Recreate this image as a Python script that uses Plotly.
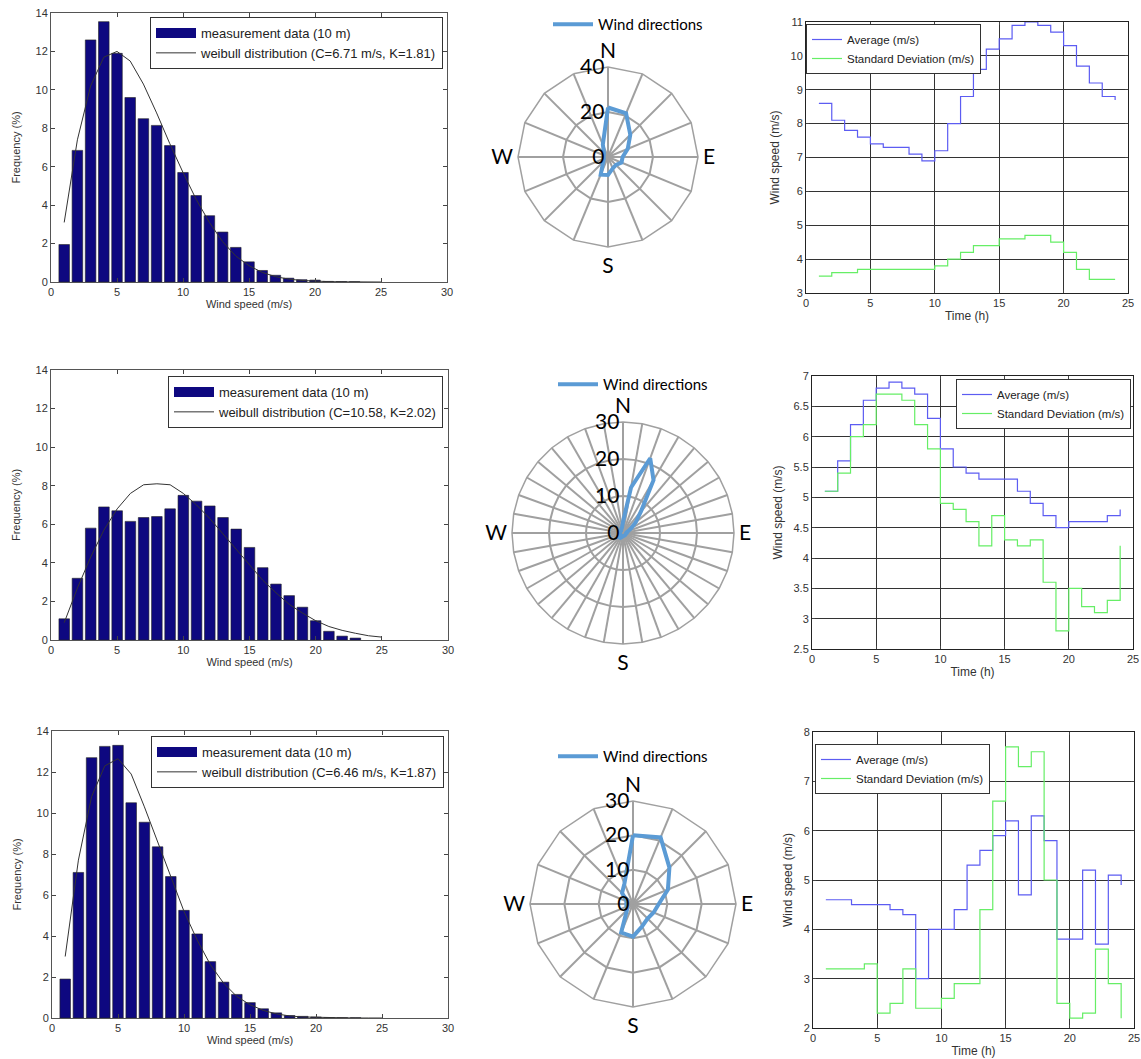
import plotly.graph_objects as go

W, H = 1141, 1059


def px(x):
    return min(1.0, max(0.0, x / W))


def py(y):
    return min(1.0, max(0.0, 1 - y / H))


# ---------------- data ----------------
speed_bins = list(range(1, 24))
hist_1 = [1.95, 6.85, 12.6, 13.55, 11.9, 9.6, 8.5, 8.15, 7.1, 5.7, 4.5, 3.45,
          2.6, 1.8, 1.05, 0.6, 0.35, 0.2, 0.12, 0.1, 0.03, 0.02, 0.01]
hist_2 = [1.1, 3.2, 5.8, 6.9, 6.7, 6.15, 6.35, 6.4, 6.8, 7.5, 7.2, 6.95,
          6.35, 5.75, 4.8, 3.75, 2.9, 2.3, 1.7, 1.0, 0.45, 0.2, 0.1]
hist_3 = [1.9, 7.1, 12.7, 13.25, 13.3, 10.5, 9.55, 8.35, 6.9, 5.25, 4.1, 2.75,
          1.75, 1.15, 0.75, 0.45, 0.25, 0.12, 0.08, 0.05, 0.02, 0.01, 0.01]

weib_x = list(range(1, 26))
weib_1 = [3.1, 7.4, 10.2, 11.7, 12.0, 11.5, 10.3, 8.8, 7.2, 5.7, 4.3, 3.1, 2.1,
          1.35, 0.85, 0.5, 0.28, 0.15, 0.08, 0.04, 0.02, 0.01, 0.0, 0.0, 0.0]
weib_2 = [0.9, 2.7, 4.3, 5.7, 6.8, 7.6, 8.05, 8.1, 8.05, 7.6, 7.0, 6.3, 5.5,
          4.7, 3.9, 3.1, 2.45, 1.85, 1.4, 1.0, 0.7, 0.5, 0.35, 0.22, 0.15]
weib_3 = [3.0, 7.7, 10.8, 12.3, 12.65, 11.9, 10.3, 8.6, 6.9, 5.2, 3.8, 2.6, 1.7,
          1.05, 0.65, 0.37, 0.2, 0.1, 0.05, 0.03, 0.01, 0.0, 0.0, 0.0, 0.0]
weib_names = ["weibull distribution (C=6.71 m/s, K=1.81)",
              "weibull distribution (C=10.58, K=2.02)",
              "weibull distribution (C=6.46 m/s, K=1.87)"]

dirs16 = ["N", "NNE", "NE", "ENE", "E", "ESE", "SE", "SSE",
          "S", "SSW", "SW", "WSW", "W", "WNW", "NW", "NNW"]
rose_1 = [22, 21, 14, 9.5, 6.5, 6.5, 5, 5.5, 8, 8.5, 3, 2, 2, 2, 2.5, 6]
rose_3 = [20, 21, 15, 11, 7.5, 6.5, 6, 7, 9.5, 9, 2.5, 2, 2, 2, 4.5, 6.5]
dirs36 = [str(d) for d in range(0, 360, 10)]
rose_2 = [3, 12.5, 21.5, 16.5, 7.5, 4.5, 2.5, 1.5, 1, 1, 0.8, 0.8, 0.8, 0.8, 0.8,
          0.8, 0.8, 0.8, 0.8, 1, 1.2, 1.5, 1.5, 1.2, 1, 0.8, 0.8, 0.8, 0.8, 0.8,
          0.8, 0.8, 0.8, 1, 1.2, 1.5]

hours = list(range(1, 25))
avg_1 = [8.6, 8.1, 7.8, 7.6, 7.4, 7.3, 7.3, 7.1, 6.9, 7.2, 8.0, 8.8, 9.6, 10.2,
         10.5, 10.9, 11.0, 10.9, 10.7, 10.3, 9.7, 9.2, 8.8, 8.7]
std_1 = [3.5, 3.6, 3.6, 3.7, 3.7, 3.7, 3.7, 3.7, 3.7, 3.8, 4.0, 4.2, 4.4, 4.4,
         4.6, 4.6, 4.7, 4.7, 4.5, 4.2, 3.7, 3.4, 3.4, 3.4]
avg_2 = [5.1, 5.6, 6.2, 6.6, 6.8, 6.9, 6.8, 6.7, 6.3, 5.8, 5.5, 5.4, 5.3, 5.3,
         5.3, 5.1, 4.9, 4.7, 4.5, 4.6, 4.6, 4.6, 4.7, 4.8]
std_2 = [5.1, 5.4, 6.0, 6.2, 6.7, 6.7, 6.6, 6.2, 5.8, 4.9, 4.8, 4.6, 4.2, 4.7,
         4.3, 4.2, 4.3, 3.6, 2.8, 3.5, 3.2, 3.1, 3.3, 4.2]
avg_3 = [4.6, 4.6, 4.5, 4.5, 4.5, 4.4, 4.3, 3.0, 4.0, 4.0, 4.4, 5.3, 5.6, 5.9,
         6.2, 4.7, 6.3, 5.8, 3.8, 3.8, 5.2, 3.7, 5.1, 4.9]
std_3 = [3.2, 3.2, 3.2, 3.3, 2.3, 2.5, 3.2, 2.4, 2.4, 2.6, 2.9, 2.9, 4.4, 6.6,
         7.7, 7.3, 7.6, 5.0, 2.5, 2.2, 2.3, 3.6, 2.9, 2.2]

# ---------------- styles ----------------
BAR_COLOR = "#0e0880"
AVG_COLOR = "#5c5cf2"
STD_COLOR = "#66ee66"
ROSE_COLOR = "#5b9bd5"
GRID_GREY = "#a0a0a0"
MFONT = "Liberation Sans, Arial, sans-serif"
XFONT = "Lato, Open Sans, sans-serif"

fig = go.Figure()

hist_boxes = [(51, 447, 13, 282), (51, 448, 370, 640), (52, 448, 731, 1018)]
line_boxes = [(806, 1128, 22, 293), (812, 1133, 376, 649), (813, 1134, 732, 1028)]
polar_boxes = [(608, 157, 90), (623, 533, 111), (633, 904, 103)]
hist_legend_pos = [(443, 17), (443, 376), (444, 736)]
line_legend_pos = [(806, 24, "left"), (1131, 379, "right"), (815, 744, "left")]
polar_legend_pos = [(548, 8), (553, 368), (553, 740)]
line_ranges = [(3, 11, 1), (2.5, 7, 0.5), (2, 8, 1)]
polar_ranges = [(40, 20), (30, 10), (30, 10)]

hists = [hist_1, hist_2, hist_3]
weibs = [weib_1, weib_2, weib_3]
avgs = [avg_1, avg_2, avg_3]
stds = [std_1, std_2, std_3]
roses = [(dirs16, rose_1), (dirs36, rose_2), (dirs16, rose_3)]

layout = dict(
    width=W, height=H, margin=dict(l=0, r=0, t=0, b=0, autoexpand=False),
    paper_bgcolor="white", plot_bgcolor="white", barmode="overlay",
)

leg_idx = 0


def legname(i):
    return "legend" if i == 0 else f"legend{i + 1}"


for r in range(3):
    # ---- histogram ----
    xa_i = 2 * r + 1
    xn = "x" if xa_i == 1 else f"x{xa_i}"
    yn = "y" if xa_i == 1 else f"y{xa_i}"
    lg = legname(leg_idx)
    fig.add_trace(go.Bar(x=speed_bins, y=hists[r], width=0.8, xaxis=xn, yaxis=yn,
                         marker=dict(color=BAR_COLOR, line=dict(color="#222", width=0.6)),
                         name="measurement data (10 m)", showlegend=False, legend=lg))
    # legend swatch (wide rectangle like the original) - legend only, no data
    fig.add_trace(go.Scatter(x=[None], y=[None], mode="lines", xaxis=xn, yaxis=yn,
                             line=dict(color=BAR_COLOR, width=11),
                             name="measurement data (10 m)", legend=lg))
    fig.add_trace(go.Scatter(x=weib_x, y=weibs[r], mode="lines", xaxis=xn, yaxis=yn,
                             line=dict(color="#333", width=1), name=weib_names[r], legend=lg))
    x0, x1, y0, y1 = hist_boxes[r]
    axkey = "xaxis" if xa_i == 1 else f"xaxis{xa_i}"
    aykey = "yaxis" if xa_i == 1 else f"yaxis{xa_i}"
    layout[axkey] = dict(domain=[px(x0), px(x1)], anchor=yn, range=[0, 30],
                         tickvals=[0, 5, 10, 15, 20, 25, 30], ticks="inside", ticklen=4,
                         mirror="ticks", showline=True, linecolor="#555", linewidth=1,
                         showgrid=False, zeroline=False, ticklabeloverflow="allow",
                         tickfont=dict(family=MFONT, size=11, color="#333"),
                         title=dict(text="Wind speed (m/s)", standoff=3,
                                    font=dict(family=MFONT, size=11, color="#333")))
    layout[aykey] = dict(domain=[py(y1), py(y0)], anchor=xn, range=[0, 14],
                         tickvals=list(range(0, 15, 2)), ticks="inside", ticklen=4,
                         mirror="ticks", showline=True, linecolor="#555", linewidth=1,
                         showgrid=False, zeroline=False, ticklabeloverflow="allow",
                         tickfont=dict(family=MFONT, size=11, color="#333"),
                         title=dict(text="Frequency (%)", standoff=12,
                                    font=dict(family=MFONT, size=11, color="#333")))
    lx, ly = hist_legend_pos[r]
    layout[lg] = dict(x=px(lx), y=py(ly), xanchor="right", yanchor="top",
                      bgcolor="white", bordercolor="#333", borderwidth=1,
                      font=dict(family=MFONT, size=13, color="#222"),
                      tracegroupgap=0, itemwidth=40)
    leg_idx += 1

    # ---- step lines ----
    xa_i = 2 * r + 2
    xn = f"x{xa_i}"
    yn = f"y{xa_i}"
    lg = legname(leg_idx)
    fig.add_trace(go.Scatter(x=hours, y=avgs[r], mode="lines", line_shape="hv",
                             xaxis=xn, yaxis=yn, line=dict(color=AVG_COLOR, width=1.2),
                             name="Average (m/s)", legend=lg))
    fig.add_trace(go.Scatter(x=hours, y=stds[r], mode="lines", line_shape="hv",
                             xaxis=xn, yaxis=yn, line=dict(color=STD_COLOR, width=1.2),
                             name="Standard Deviation (m/s)", legend=lg))
    x0, x1, y0, y1 = line_boxes[r]
    lo, hi, st = line_ranges[r]
    nt = int(round((hi - lo) / st))
    yt = [lo + k * st for k in range(nt + 1)]
    layout[f"xaxis{xa_i}"] = dict(domain=[px(x0), px(x1)], anchor=yn, range=[0, 25],
                                  tickvals=[0, 5, 10, 15, 20, 25], ticks="inside", ticklen=3,
                                  mirror="ticks", showline=True, linecolor="#222",
                                  showgrid=True, gridcolor="#333", gridwidth=1, zeroline=False,
                                  ticklabeloverflow="allow",
                                  tickfont=dict(family=MFONT, size=11, color="#333"),
                                  title=dict(text="Time (h)", standoff=3,
                                             font=dict(family=MFONT, size=12, color="#333")))
    layout[f"yaxis{xa_i}"] = dict(domain=[py(y1), py(y0)], anchor=xn, range=[lo, hi],
                                  tickvals=yt, ticktext=[f"{v:g}" for v in yt],
                                  ticks="inside", ticklen=3,
                                  mirror="ticks", showline=True, linecolor="#222",
                                  showgrid=True, gridcolor="#333", gridwidth=1, zeroline=False,
                                  ticklabeloverflow="allow",
                                  tickfont=dict(family=MFONT, size=11, color="#333"),
                                  title=dict(text="Wind speed (m/s)", standoff=8,
                                             font=dict(family=MFONT, size=12, color="#333")))
    lx, ly, xa = line_legend_pos[r]
    layout[lg] = dict(x=px(lx), y=py(ly), xanchor=xa, yanchor="top",
                      bgcolor="white", bordercolor="#333", borderwidth=1,
                      font=dict(family=MFONT, size=11.5, color="#222"),
                      tracegroupgap=0, itemwidth=30)
    leg_idx += 1

    # ---- wind rose ----
    pk = "polar" if r == 0 else f"polar{r + 1}"
    lg = legname(leg_idx)
    cats, vals = roses[r]
    fig.add_trace(go.Scatterpolar(r=vals + vals[:1], theta=cats + cats[:1], mode="lines",
                                  subplot=pk, line=dict(color=ROSE_COLOR, width=4),
                                  name="Wind directions", legend=lg))
    cx, cy, rad = polar_boxes[r]
    rmax, rdt = polar_ranges[r]
    n = len(cats)
    labels = []
    for k in range(n):
        q = {0: "N", n // 4: "E", n // 2: "S", 3 * n // 4: "W"}
        labels.append(q.get(k, ""))
    layout[pk] = dict(
        domain=dict(x=[px(cx - rad), px(cx + rad)], y=[py(cy + rad), py(cy - rad)]),
        bgcolor="white", gridshape="linear",
        angularaxis=dict(type="category", categoryarray=cats, direction="clockwise",
                         rotation=90, tickmode="array", tickvals=cats, ticktext=labels,
                         showline=True, linecolor=GRID_GREY, linewidth=1.5,
                         gridcolor=GRID_GREY, gridwidth=1.5, ticks="",
                         tickfont=dict(family=XFONT, size=21, color="black")),
        radialaxis=dict(range=[0, rmax], dtick=rdt, angle=90, side="counterclockwise",
                        showline=False, gridcolor=GRID_GREY, gridwidth=1.5, ticks="",
                        tickangle=90,
                        tickfont=dict(family=XFONT, size=21, color="black")),
    )
    lx, ly = polar_legend_pos[r]
    layout[lg] = dict(x=px(lx), y=py(ly), xanchor="left", yanchor="top",
                      bgcolor="rgba(0,0,0,0)", borderwidth=0,
                      font=dict(family=XFONT, size=15, color="black"),
                      itemwidth=40)
    leg_idx += 1

fig.update_layout(**layout)
fig.write_html(
    "out.html",
    config={"displayModeBar": False},
    post_script="document.body.style.margin='0px';document.body.style.overflow='hidden';",
)
